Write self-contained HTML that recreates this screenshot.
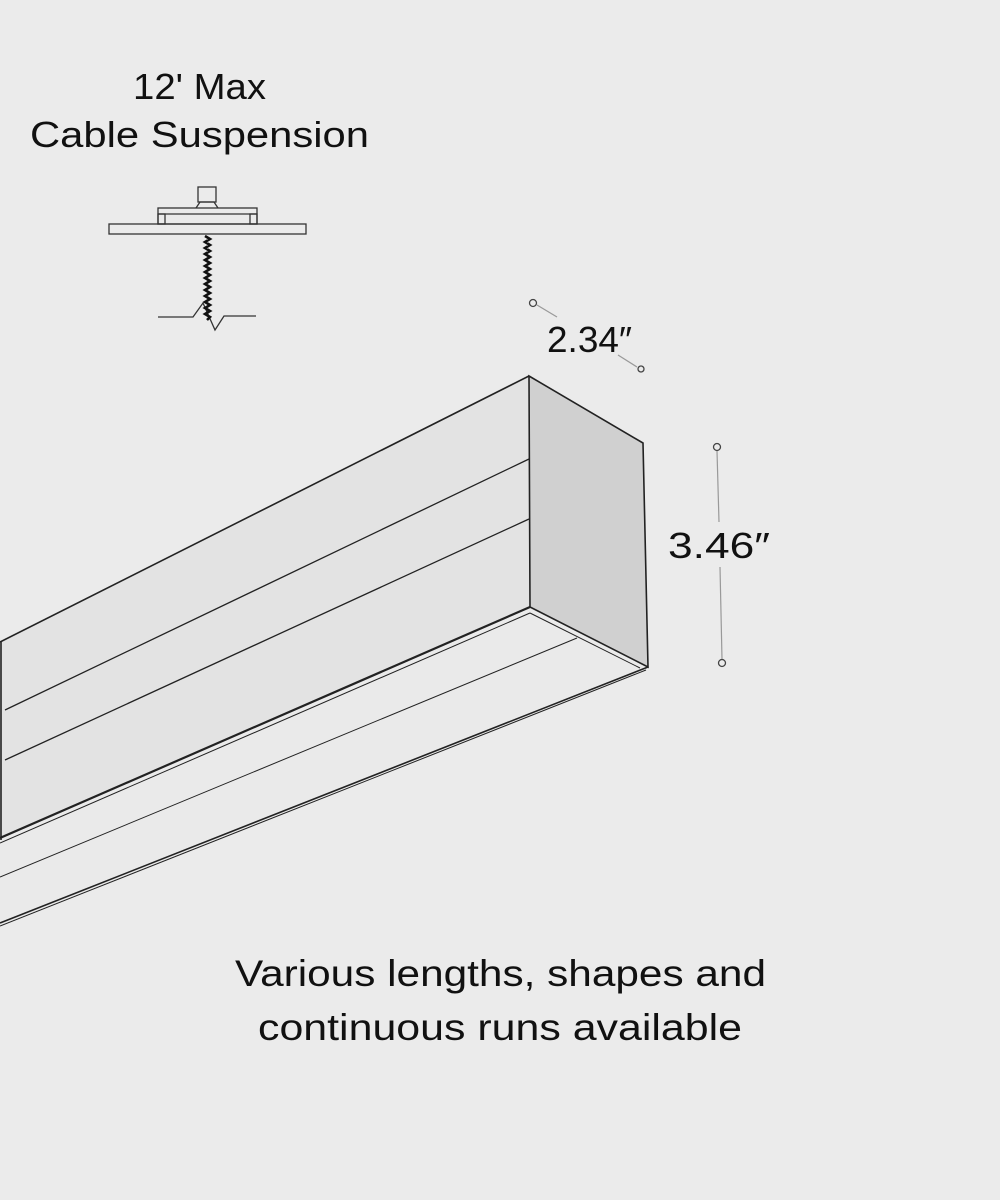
<!DOCTYPE html>
<html><head><meta charset="utf-8"><style>
html,body{margin:0;padding:0;background:#ebebeb}
svg{display:block}
text{font-family:"Liberation Sans",sans-serif;fill:#111}
</style></head><body>
<svg width="1000" height="1200" viewBox="0 0 1000 1200">
<rect width="1000" height="1200" fill="#ebebeb"/>
<text x="133" y="99" font-size="36" textLength="133" lengthAdjust="spacingAndGlyphs">12' Max</text>
<text x="30" y="147" font-size="36" textLength="339" lengthAdjust="spacingAndGlyphs">Cable Suspension</text>
<!-- canopy -->
<g fill="none" stroke="#333" stroke-width="1.3">
<rect x="198" y="187" width="18" height="15"/>
<path d="M196,208 L200,202 L214,202 L218,208"/>
<rect x="158" y="208" width="99" height="16"/>
<line x1="158" y1="214" x2="257" y2="214"/>
<rect x="158" y="214" width="7" height="10"/>
<rect x="250" y="214" width="7" height="10"/>
<rect x="109" y="224" width="197" height="10"/>
<path d="M158,317 L193,317 L203,303 L215,330 L224,316 L256,316"/>
</g>
<path d="M205,236 L210,239 L205,242 L210,245 L205,248 L210,251 L205,254 L210,257 L205,260 L210,263 L205,266 L210,269 L205,272 L210,275 L205,278 L210,281 L205,284 L210,287 L205,290 L210,293 L205,296 L210,299 L205,302 L210,305 L205,308 L210,311 L205,314 L210,317 L207,320" stroke="#111" stroke-width="2.6" fill="none"/>
<!-- luminaire -->
<polygon points="0,642 529,376 530,607 0,838" fill="#e3e3e3"/>
<polygon points="529,376 643,443 648,667 530,607" fill="#d0d0d0" stroke="#222" stroke-width="1.6"/>
<polygon points="0,842 530,611 645,668 0,925" fill="#eaeaea"/>
<g stroke="#222" fill="none">
<line x1="0" y1="642" x2="529" y2="376" stroke-width="1.6"/>
<line x1="5" y1="710" x2="529" y2="459" stroke-width="1.3"/>
<line x1="5" y1="760" x2="529" y2="519" stroke-width="1.3"/>
<line x1="1" y1="642" x2="1" y2="840" stroke-width="1.6"/>
<line x1="0" y1="838" x2="530" y2="607" stroke-width="2.2"/>
<line x1="0" y1="843" x2="530" y2="613" stroke-width="1"/>
<line x1="530" y1="613" x2="640" y2="668" stroke-width="1"/>
<line x1="0" y1="877" x2="577" y2="638" stroke-width="1"/>
<line x1="0" y1="923" x2="648" y2="667" stroke-width="1.6"/>
<line x1="0" y1="926" x2="646" y2="670" stroke-width="1"/>
</g>
<!-- dimensions -->
<g stroke="#999" stroke-width="1.2" fill="none">
<line x1="537" y1="305" x2="557" y2="317"/>
<line x1="618" y1="355" x2="637" y2="367"/>
<line x1="717" y1="451" x2="719" y2="522"/>
<line x1="720" y1="567" x2="722" y2="659"/>
</g>
<g stroke="#444" stroke-width="1.3" fill="#ebebeb">
<circle cx="533" cy="303" r="3.5"/>
<circle cx="641" cy="369" r="3"/>
<circle cx="717" cy="447" r="3.5"/>
<circle cx="722" cy="663" r="3.5"/>
</g>
<text x="547" y="352" font-size="36" textLength="85" lengthAdjust="spacingAndGlyphs">2.34″</text>
<text x="668" y="558" font-size="36" textLength="102" lengthAdjust="spacingAndGlyphs">3.46″</text>
<text x="235" y="986" font-size="37" textLength="531" lengthAdjust="spacingAndGlyphs">Various lengths, shapes and</text>
<text x="258" y="1040" font-size="37" textLength="484" lengthAdjust="spacingAndGlyphs">continuous runs available</text>
</svg>
</body></html>
